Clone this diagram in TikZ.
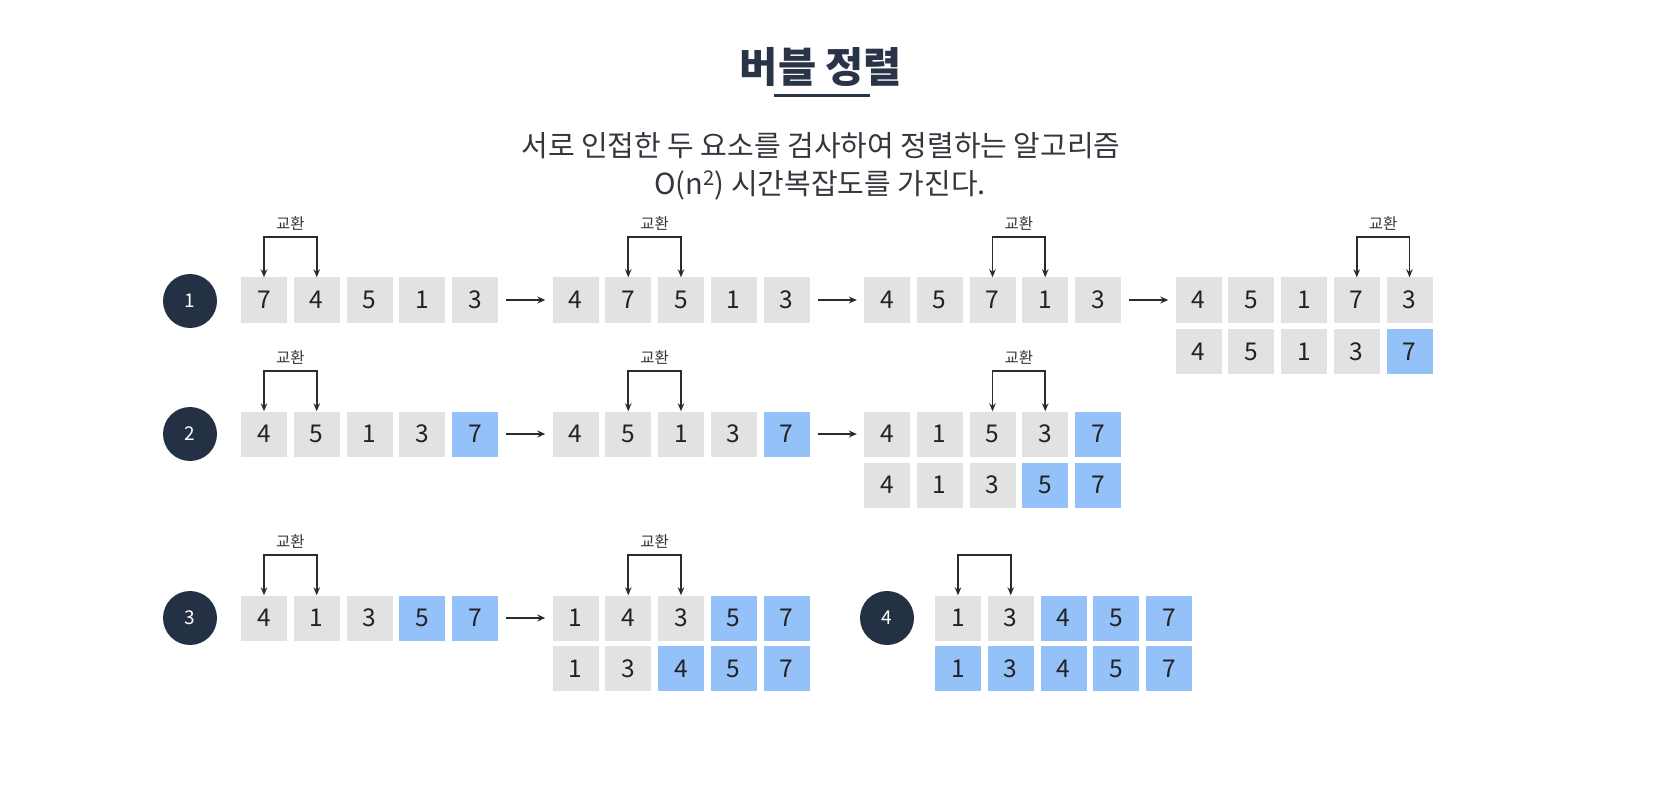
\documentclass[tikz,border=0pt]{standalone}
\usepackage{fontspec}
\setmainfont{Noto Sans CJK KR}
\usetikzlibrary{arrows.meta,calc}
\definecolor{navy}{HTML}{243044}
\definecolor{titlec}{HTML}{2A3447}
\definecolor{subc}{HTML}{33373D}
\definecolor{cellg}{HTML}{E2E2E2}
\definecolor{cellb}{HTML}{94C1F7}
\definecolor{inkc}{HTML}{222222}
\definecolor{linec}{HTML}{2B2B2B}
\tikzset{
  cell/.style={minimum width=46, minimum height=45, inner sep=0pt, text=inkc,
    font=\fontsize{24.5}{28}\selectfont},
  stepnum/.style={circle, fill=navy, minimum size=54, inner sep=0pt, text=white,
    font=\fontsize{19}{22}\selectfont},
  brk/.style={draw=linec, line width=1.7pt, {Stealth[length=8,width=6.5]}-{Stealth[length=8,width=6.5]}},
  flow/.style={draw=linec, line width=1.5pt, -{Stealth[length=8,width=7]}, shorten <=8, shorten >=7},
  lbl/.style={text=subc, font=\fontsize{15.5}{18}\selectfont, inner sep=0pt},
}
\newcommand{\boxrow}[4]{%
  \foreach \v/\c [count=\i] in {#4} {
    \node[cell, fill=\c] (#1-\i) at ({#2+23+(\i-1)*52.75}, #3) {\v};
  }}
\newcommand{\swp}[3]{\draw[brk] (#1-#2.north) -- ++(0,-40) -| (#1-#3.north);}
\newcommand{\swl}[3]{\node[lbl] (#1-lab) at ($(#1-#2.north)!.5!(#1-#3.north)+(0,-54)$) {교환};}
\begin{document}
\begin{tikzpicture}[x=1pt,y=-1pt]
\useasboundingbox[fill=white] (0,0) rectangle (1654,786);

% title
\node[text=titlec, font=\fontsize{41.5}{46}\selectfont\bfseries, inner sep=0pt] (title) at (821,67) {버블 정렬};
\draw[titlec, line width=2.8pt] (774,95.5) -- (870,95.5);
\node[text=subc, font=\fontsize{29}{32}\selectfont, inner sep=0pt] (sub1) at (821,146) {서로 인접한 두 요소를 검사하여 정렬하는 알고리즘};
\node[text=subc, font=\fontsize{29}{32}\selectfont, inner sep=0pt] (sub2) at (820,185) {O(n\textsuperscript{2}) 시간복잡도를 가진다.};

% step circles
\node[stepnum] (s1) at (190,301) {1};
\node[stepnum] (s2) at (190,434) {2};
\node[stepnum] (s3) at (190,618) {3};
\node[stepnum] (s4) at (887,618) {4};

% row 1
\boxrow{a1}{241}{300}{7/cellg,4/cellg,5/cellg,1/cellg,3/cellg}
\boxrow{a2}{552.5}{300}{4/cellg,7/cellg,5/cellg,1/cellg,3/cellg}
\boxrow{a3}{864}{300}{4/cellg,5/cellg,7/cellg,1/cellg,3/cellg}
\boxrow{a4}{1175.5}{300}{4/cellg,5/cellg,1/cellg,7/cellg,3/cellg}
\boxrow{a5}{1175.5}{351.5}{4/cellg,5/cellg,1/cellg,3/cellg,7/cellb}
\swp{a1}{1}{2}\swl{a1}{1}{2}
\swp{a2}{2}{3}\swl{a2}{2}{3}
\swp{a3}{3}{4}\swl{a3}{3}{4}
\swp{a4}{4}{5}\swl{a4}{4}{5}
\draw[flow] (a1-5.east) -- (a2-1.west);
\draw[flow] (a2-5.east) -- (a3-1.west);
\draw[flow] (a3-5.east) -- (a4-1.west);

% row 2
\boxrow{b1}{241}{434}{4/cellg,5/cellg,1/cellg,3/cellg,7/cellb}
\boxrow{b2}{552.5}{434}{4/cellg,5/cellg,1/cellg,3/cellg,7/cellb}
\boxrow{b3}{864}{434}{4/cellg,1/cellg,5/cellg,3/cellg,7/cellb}
\boxrow{b4}{864}{485}{4/cellg,1/cellg,3/cellg,5/cellb,7/cellb}
\swp{b1}{1}{2}\swl{b1}{1}{2}
\swp{b2}{2}{3}\swl{b2}{2}{3}
\swp{b3}{3}{4}\swl{b3}{3}{4}
\draw[flow] (b1-5.east) -- (b2-1.west);
\draw[flow] (b2-5.east) -- (b3-1.west);

% row 3
\boxrow{c1}{241}{618}{4/cellg,1/cellg,3/cellg,5/cellb,7/cellb}
\boxrow{c2}{552.5}{618}{1/cellg,4/cellg,3/cellg,5/cellb,7/cellb}
\boxrow{c3}{552.5}{668.5}{1/cellg,3/cellg,4/cellb,5/cellb,7/cellb}
\swp{c1}{1}{2}\swl{c1}{1}{2}
\swp{c2}{2}{3}\swl{c2}{2}{3}
\draw[flow] (c1-5.east) -- (c2-1.west);

% step 4
\boxrow{d1}{935}{618}{1/cellg,3/cellg,4/cellb,5/cellb,7/cellb}
\boxrow{d2}{935}{668.5}{1/cellb,3/cellb,4/cellb,5/cellb,7/cellb}
\swp{d1}{1}{2}
\end{tikzpicture}
\end{document}
